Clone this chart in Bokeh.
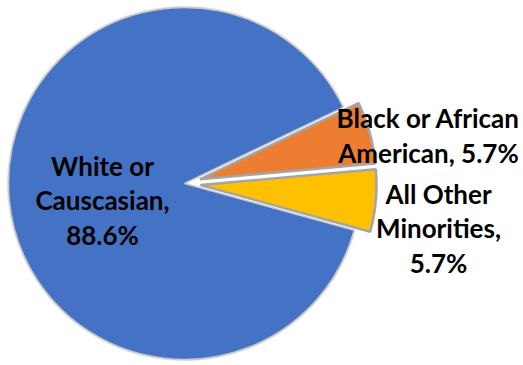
import math
from bokeh.plotting import figure
from bokeh.models import ColumnDataSource, Range1d
from bokeh.core.properties import value
from bokeh.embed import file_html
from bokeh.resources import INLINE

# ---- data ----
categories = ["White or Causcasian", "Black or African American", "All Other Minorities"]
shares = [88.6, 5.7, 5.7]
label_texts = ["White or\nCauscasian,\n88.6%", "Black or African\nAmerican, 5.7%", "All Other\nMinorities,\n5.7%"]

# ---- style / layout ----
colors = ["#4472C4", "#ED7D31", "#FFC000"]
explode = [0, 16, 16]
start_deg = -15.4          # start of the first slice, slices run clockwise
cx, cy, R = 184, 182, 176
# label block centres in screen pixels (x from left, y from top)
label_xy = [(102, 200), (428, 135), (438, 228)]

W, H = 523, 365
p = figure(width=W, height=H, output_backend="svg", toolbar_location=None,
           x_range=Range1d(0, W), y_range=Range1d(0, H), min_border=0)
p.axis.visible = False
p.grid.visible = False
p.outline_line_color = None
p.background_fill_color = "white"

total = sum(shares)
starts, ends, xs, ys = [], [], [], []
acc = 0.0
for v, e in zip(shares, explode):
    a0 = start_deg - acc * 360.0 / total
    a1 = a0 - v * 360.0 / total
    acc += v
    mid = math.radians((a0 + a1) / 2)
    starts.append(math.radians(a0))
    ends.append(math.radians(a1))
    xs.append(cx + e * math.cos(mid))
    ys.append(cy + e * math.sin(mid))

src = ColumnDataSource(dict(x=xs, y=ys, start=starts, end=ends, color=colors,
                            cat=categories, share=shares,
                            lc=["#C8C8C8", "#A5A5A5", "#A5A5A5"],
                            lw=[1.5, 2.5, 2.5]))

# soft shadow
p.wedge(x="x", y="y", radius=R + 1.5, start_angle="start", end_angle="end",
        direction="clock", fill_color="#D0D0D0", line_color=None, fill_alpha=0.6, source=src)
p.wedge(x="x", y="y", radius=R, start_angle="start", end_angle="end",
        direction="clock", fill_color="color", line_color="lc", line_width="lw", source=src)

# labels
lx = [q[0] for q in label_xy]
ly = [H - q[1] for q in label_xy]
lsrc = ColumnDataSource(dict(x=lx, y=ly, t=label_texts))
p.text(x="x", y="y", text="t", source=lsrc, text_font=value("Lato"),
       text_font_style="bold", text_font_size="26px", text_align="center",
       text_baseline="middle", text_line_height=1.08, text_color="black")

open("out.html", "w").write(file_html(p, INLINE))
